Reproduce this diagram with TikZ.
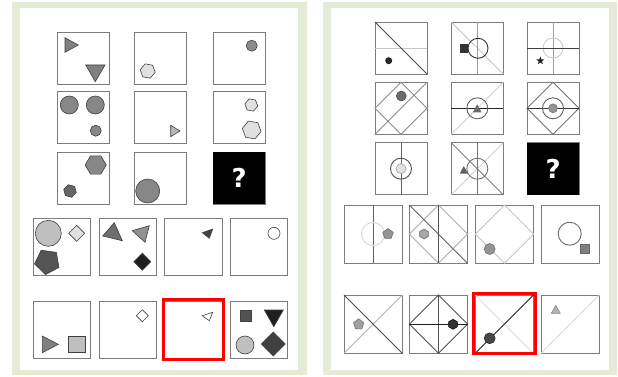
\documentclass[tikz,border=0pt]{standalone}
\usepackage{fontspec}
\setsansfont{DejaVu Sans}
\usetikzlibrary{shapes.geometric}
\definecolor{frameG}{HTML}{E4ECD8}
\definecolor{boxc}{HTML}{7C7C7C}
\newcommand\ngon[5]{\draw[#1] #2 +(#5:#4) \foreach \k in {1,...,#3}{ -- +(#5+\k*360/#3:#4)} -- cycle;}
\tikzset{
  cellbox/.style={draw=boxc, line width=0.9pt, fill=white},
  sh/.style={draw=black!75, line width=0.6pt},
  qbox/.style={fill=black, minimum width=52pt, minimum height=52pt, inner sep=0pt, text=white, font=\sffamily\bfseries\fontsize{26}{26}\selectfont},
  redsel/.style={draw=red, line width=3pt},
  ln/.style={line width=0.9pt, draw=#1},
}
\begin{document}
\begin{tikzpicture}[x=1pt,y=-1pt]
\useasboundingbox (0,0) rectangle (618,377);
\fill[white] (0,0) rectangle (618,377);
\fill[frameG] (12,2) rectangle (307,375);
\fill[white] (20,8) rectangle (298,370);
\fill[frameG] (322.5,2) rectangle (617,375);
\fill[white] (330.5,8) rectangle (609,370);

% ---------------- LEFT PANEL: grid ----------------
\foreach \x in {57,134.7,213}{\foreach \y in {32,91.7,152}{
  \draw[cellbox] (\x,\y) rectangle ++(52,52);}}
% R1C1
\filldraw[sh, fill=black!50] (65,37.7) -- (65,52.3) -- (78.3,45) -- cycle;
\filldraw[sh, fill=black!50] (85.7,65) -- (105,65) -- (95.3,81.7) -- cycle;
% R1C2
\ngon{sh, fill=black!12}{(147.7,71)}{6}{7.6}{10}
% R1C3
\filldraw[sh, fill=black!45] (251.7,45.7) circle[radius=5.5];
% R2C1
\filldraw[sh, fill=black!47] (69.3,105) circle[radius=9];
\filldraw[sh, fill=black!47] (95.3,105) circle[radius=9];
\filldraw[sh, fill=black!47] (95.7,130.7) circle[radius=5.5];
% R2C2
\filldraw[sh, fill=black!28] (170.7,125.3) -- (170.7,136.7) -- (180,131) -- cycle;
% R2C3
\ngon{sh, fill=black!12}{(251.3,105)}{6}{6.5}{10}
\ngon{sh, fill=black!12}{(251.7,130)}{6}{9.5}{10}
% R3C1
\ngon{sh, fill=black!47}{(95.7,165)}{6}{10.5}{0}
\ngon{sh, fill=black!60}{(70,191)}{6}{6.5}{15}
% R3C2
\filldraw[sh, fill=black!47] (147.7,191) circle[radius=12];
% R3C3
\node[qbox, anchor=north west] (qL) at (213,152) {?};

% ---------------- LEFT PANEL: options ----------------
\foreach \x in {33.3,99,164.7,230.3}{\foreach \y in {218.3,301}{
  \draw[cellbox] (\x,\y) rectangle ++(57.5,57.5);}}
% A1
\filldraw[sh, fill=black!25] (48.3,233.3) circle[radius=13];
\filldraw[sh, fill=black!12] (76.7,225.3) -- (84.7,233.3) -- (76.7,241.3) -- (68.7,233.3) -- cycle;
\ngon{sh, fill=black!67}{(47.3,261.7)}{5}{13}{170}
% A2
\filldraw[sh, fill=black!57] (102.7,236) -- (114.3,222.7) -- (122.3,240.7) -- cycle;
\filldraw[sh, fill=black!43] (132.3,230.7) -- (149.3,225.7) -- (145,242.3) -- cycle;
\filldraw[sh, fill=black!88] (142.3,253.2) -- (150.8,261.7) -- (142.3,270.2) -- (133.8,261.7) -- cycle;
% A3
\filldraw[sh, fill=black!75] (202.3,232.7) -- (212.7,229) -- (209.3,238.3) -- cycle;
% A4
\filldraw[sh, fill=white] (274,233.3) circle[radius=6];
% B1
\filldraw[sh, fill=black!50] (42.3,336) -- (42.3,352.7) -- (58.3,344.3) -- cycle;
\filldraw[sh, fill=black!25] (68.3,336.7) rectangle (85,352.3);
% B2
\filldraw[sh, fill=white] (142.3,309.7) -- (148.3,315.7) -- (142.3,321.7) -- (136.3,315.7) -- cycle;
% B3 (selected)
\draw[redsel] (163.2,299.8) rectangle (223.2,359.5);
\filldraw[sh, fill=white] (202.3,315.7) -- (212.7,312.3) -- (209.3,320.7) -- cycle;
% B4
\filldraw[sh, fill=black!68] (240,310.7) rectangle (251,321);
\filldraw[sh, fill=black!88] (264.3,310) -- (283.3,310) -- (273.8,326.7) -- cycle;
\filldraw[sh, fill=black!25] (245,345) circle[radius=9];
\filldraw[sh, fill=black!75] (273.3,332) -- (285.3,344) -- (273.3,356) -- (261.3,344) -- cycle;

% ---------------- RIGHT PANEL: grid ----------------
\foreach \x in {375,451.3,527}{\foreach \y in {22,82.3,142.7}{
  \draw[cellbox] (\x,\y) rectangle ++(52,52);}}
% R1C1
\begin{scope}[shift={(375,22)}]
  \draw[ln=black!22] (0,26) -- (52,26);
  \draw[ln=black!70] (0,0) -- (52,52);
  \fill[black!85] (13.7,38.7) circle[radius=3.5];
\end{scope}
% R1C2
\begin{scope}[shift={(451.3,22)}]
  \draw[ln=black!22] (0,0) -- (52,52);
  \draw[ln=black!38] (26,0) -- (26,52);
  \fill[black!80] (8.4,22) rectangle (16.7,30.7);
  \draw[ln=black!80] (26.7,26.3) circle[radius=10];
\end{scope}
% R1C3
\begin{scope}[shift={(527,22)}]
  \draw[ln=black!38] (26,0) -- (26,52);
  \draw[ln=black!20] (26,26) circle[radius=10];
  \draw[ln=black!75] (0,26) -- (52,26);
  \node[star, star points=5, star point ratio=2.4, fill=black!85, minimum size=8.5pt, inner sep=0pt] (star1) at (13.3,38.7) {};
\end{scope}
% R2C1
\begin{scope}[shift={(375,82.3)}]
  \draw[ln=black!45] (26,0) -- (52,26) -- (26,52) -- (0,26) -- cycle;
  \draw[ln=black!45] (52,0) -- (0,52);
  \filldraw[draw=black!70, fill=black!58, line width=0.5pt] (26.3,13.7) circle[radius=5];
\end{scope}
% R2C2
\begin{scope}[shift={(451.3,82.3)}]
  \draw[ln=black!18] (0,52) -- (52,0);
  \draw[ln=black!85] (0,26) -- (52,26);
  \draw[ln=black!62] (26,26) circle[radius=10.5];
  \fill[black!58] (21.6,30) -- (30.2,30) -- (25.9,22) -- cycle;
\end{scope}
% R2C3
\begin{scope}[shift={(527,82.3)}]
  \draw[ln=black!55] (26,0) -- (52,26) -- (26,52) -- (0,26) -- cycle;
  \draw[ln=black!78] (0,26) -- (52,26);
  \draw[ln=black!62] (26,26) circle[radius=10.5];
  \filldraw[draw=black!55, fill=black!42, line width=0.5pt] (26,26) circle[radius=4.5];
\end{scope}
% R3C1
\begin{scope}[shift={(375,142.7)}]
  \draw[ln=black!62] (26,0) -- (26,52);
  \draw[ln=black!68] (26,26) circle[radius=10.5];
  \filldraw[draw=black!40, fill=black!12, line width=0.5pt] (26,26) circle[radius=5];
\end{scope}
% R3C2
\begin{scope}[shift={(451.3,142.7)}]
  \draw[ln=black!18] (0,52) -- (52,0);
  \draw[ln=black!50] (0,0) -- (52,52);
  \draw[ln=black!55] (26,0) -- (26,52);
  \draw[ln=black!55] (26,26) circle[radius=10.5];
  \fill[black!62] (8.4,31) -- (16.7,31) -- (12.5,23.3) -- cycle;
\end{scope}
% R3C3
\node[qbox, anchor=north west] (qR) at (527,142.7) {?};

% ---------------- RIGHT PANEL: options ----------------
\foreach \x in {344,409.3,475.3,541}{\foreach \y in {205,295}{
  \draw[cellbox] (\x,\y) rectangle ++(58.3,58.3);}}
% C1
\begin{scope}[shift={(344,205)}]
  \draw[ln=black!62] (29,0) -- (29,58.3);
  \draw[ln=black!15] (29,29) circle[radius=11.5];
  \ngon{draw=black!60, line width=0.5pt, fill=black!42}{(44,29)}{5}{5.5}{-90}
\end{scope}
% C2
\begin{scope}[shift={(409.3,205)}]
  \draw[ln=black!32] (29.15,0) -- (58.3,29.15) -- (29.15,58.3) -- (0,29.15) -- cycle;
  \draw[ln=black!68] (29.15,0) -- (29.15,58.3);
  \draw[ln=black!62] (0,0) -- (58.3,58.3);
  \ngon{draw=black!60, line width=0.5pt, fill=black!35}{(14.7,29)}{6}{5}{-90}
\end{scope}
% C3
\begin{scope}[shift={(475.3,205)}]
  \draw[ln=black!22] (29.15,0) -- (58.3,29.15) -- (29.15,58.3) -- (0,29.15) -- cycle;
  \filldraw[draw=black!60, fill=black!42, line width=0.5pt] (14.4,44) circle[radius=5.5];
\end{scope}
% C4
\begin{scope}[shift={(541,205)}]
  \draw[ln=black!58] (28.7,28.7) circle[radius=11.5];
  \filldraw[draw=black!60, fill=black!50, line width=0.5pt] (39.3,39.7) rectangle (48,48);
\end{scope}
% D1
\begin{scope}[shift={(344,295)}]
  \draw[ln=black!30] (0,58.3) -- (58.3,0);
  \draw[ln=black!70] (0,0) -- (58.3,58.3);
  \ngon{draw=black!55, line width=0.5pt, fill=black!37}{(14.7,29.3)}{5}{5.5}{-90}
\end{scope}
% D2
\begin{scope}[shift={(409.3,295)}]
  \draw[ln=black!68] (29.15,0) -- (58.3,29.15) -- (29.15,58.3) -- (0,29.15) -- cycle;
  \draw[ln=black!68] (29.15,0) -- (29.15,58.3);
  \draw[ln=black!88] (0,29.15) -- (58.3,29.15);
  \ngon{draw=black, line width=0.5pt, fill=black!80}{(43.7,29.3)}{6}{5}{-90}
\end{scope}
% D3 (selected)
\begin{scope}[shift={(475.3,295)}]
  \draw[ln=black!12] (0,0) -- (58.3,58.3);
  \draw[ln=black!88] (0,58.3) -- (58.3,0);
  \filldraw[draw=black!85, fill=black!72, line width=0.5pt] (14.4,43.3) circle[radius=5.5];
\end{scope}
\draw[redsel] (473.8,293.8) rectangle (535.2,353.5);
% D4
\begin{scope}[shift={(541,295)}]
  \draw[ln=black!15] (0,58.3) -- (58.3,0);
  \filldraw[draw=black!50, fill=black!30, line width=0.5pt] (10.3,18.3) -- (19.3,18.3) -- (14.8,10.3) -- cycle;
\end{scope}
\end{tikzpicture}
\end{document}
